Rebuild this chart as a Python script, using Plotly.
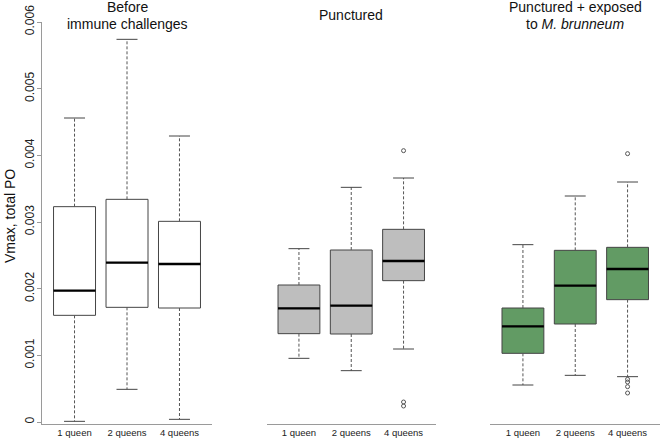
import plotly.graph_objects as go

GROUPS = ["1 queen", "2 queens", "4 queens"]
POS = [1, 2, 3]

# before immune challenges
BEFORE_Q1 = [0.00160, 0.00172, 0.00171]
BEFORE_MED = [0.00197, 0.00239, 0.00237]
BEFORE_Q3 = [0.00323, 0.00334, 0.00301]
BEFORE_LOW = [0.00001, 0.00049, 0.00004]
BEFORE_UP = [0.00456, 0.00574, 0.00429]
BEFORE_OUT = [[], [], []]

# punctured
PUNCT_Q1 = [0.001325, 0.00132, 0.00212]
PUNCT_MED = [0.001705, 0.001745, 0.002415]
PUNCT_Q3 = [0.002055, 0.00258, 0.00289]
PUNCT_LOW = [0.000955, 0.00077, 0.001095]
PUNCT_UP = [0.00260, 0.00352, 0.00366]
PUNCT_OUT = [[], [], [0.00407, 0.00030, 0.00024]]

# punctured + exposed to M. brunneum
EXPO_Q1 = [0.00103, 0.00147, 0.001835]
EXPO_MED = [0.001435, 0.002045, 0.002295]
EXPO_Q3 = [0.00171, 0.002575, 0.00262]
EXPO_LOW = [0.000555, 0.00070, 0.00068]
EXPO_UP = [0.00266, 0.00339, 0.00360]
EXPO_OUT = [[], [], [0.004025, 0.00064, 0.00060, 0.00053, 0.000435]]

Y_TICKS = [0, 0.001, 0.002, 0.003, 0.004, 0.005, 0.006]
Y_TICKTEXT = ["0", "0.001", "0.002", "0.003", "0.004", "0.005", "0.006"]

PANELS = [
    (["Before", "immune challenges"], "white",
     BEFORE_Q1, BEFORE_MED, BEFORE_Q3, BEFORE_LOW, BEFORE_UP, BEFORE_OUT),
    (["Punctured"], "#bebebe",
     PUNCT_Q1, PUNCT_MED, PUNCT_Q3, PUNCT_LOW, PUNCT_UP, PUNCT_OUT),
    (["Punctured + exposed", "to <i>M. brunneum</i>"], "#629b64",
     EXPO_Q1, EXPO_MED, EXPO_Q3, EXPO_LOW, EXPO_UP, EXPO_OUT),
]

FONT = "Liberation Sans, Arial, sans-serif"
AXIS_GREY = "#9a9a9a"
EDGE = "#454545"
DOMAINS = [[0, 0.2751], [0.3633, 0.6375], [0.7257, 1.0]]
PLOT_TOP, PLOT_H = 22, 402  # px, used to place title lines above the panels


def paper_y(px):
    return (PLOT_TOP + PLOT_H - px) / PLOT_H


fig = go.Figure()

for i, (title, fill, q1, med, q3, low, up, out) in enumerate(PANELS):
    xa = "x" if i == 0 else f"x{i + 1}"
    ya = "y" if i == 0 else f"y{i + 1}"

    fig.add_trace(go.Box(
        x=POS, q1=q1, median=med, q3=q3, lowerfence=q1, upperfence=q3,
        width=0.8, whiskerwidth=0, fillcolor=fill,
        line={"color": EDGE, "width": 1},
        xaxis=xa, yaxis=ya, hoverinfo="skip",
    ))

    wx, wy, cx, cy, mx, my = [], [], [], [], [], []
    for p, a, m, b, lo, hi in zip(POS, q1, med, q3, low, up):
        wx += [p, p, None, p, p, None]
        wy += [b, hi, None, a, lo, None]
        cx += [p - 0.2, p + 0.2, None, p - 0.2, p + 0.2, None]
        cy += [hi, hi, None, lo, lo, None]
        mx += [p - 0.4, p + 0.4, None]
        my += [m, m, None]

    fig.add_trace(go.Scatter(
        x=wx, y=wy, mode="lines", xaxis=xa, yaxis=ya,
        line={"color": "#555555", "width": 1, "dash": "3px,2px"},
        hoverinfo="skip",
    ))
    fig.add_trace(go.Scatter(
        x=cx, y=cy, mode="lines", xaxis=xa, yaxis=ya,
        line={"color": EDGE, "width": 1}, hoverinfo="skip",
    ))
    fig.add_trace(go.Scatter(
        x=mx, y=my, mode="lines", xaxis=xa, yaxis=ya,
        line={"color": "black", "width": 2.3}, hoverinfo="skip",
    ))

    ox, oy = [], []
    for p, vals in zip(POS, out):
        ox += [p] * len(vals)
        oy += vals
    if ox:
        fig.add_trace(go.Scatter(
            x=ox, y=oy, mode="markers", xaxis=xa, yaxis=ya,
            marker={"symbol": "circle-open", "size": 4, "color": "#555555",
                    "line": {"width": 1}},
            hoverinfo="skip",
        ))

    key = "" if i == 0 else str(i + 1)
    fig.layout["xaxis" + key] = dict(
        domain=DOMAINS[i], range=[0.38, 3.62], anchor=ya,
        tickvals=POS, ticktext=GROUPS, ticks="",
        showline=True, linecolor=AXIS_GREY, linewidth=1,
        showgrid=False, zeroline=False,
        tickfont={"size": 9.5, "color": "#222222"},
    )
    fig.layout["yaxis" + key] = dict(
        domain=[0, 1], range=[-0.00003, 0.006], anchor=xa,
        showgrid=False, zeroline=False,
        visible=(i == 0),
        showline=(i == 0), linecolor=AXIS_GREY, linewidth=1,
        ticks="outside", ticklen=4, tickcolor=AXIS_GREY,
        tickvals=Y_TICKS, ticktext=Y_TICKTEXT, tickangle=-90,
        ticklabelstandoff=-2,
        tickfont={"size": 12, "color": "#222222"},
    )

    # title lines: two-line titles at 7 and 24 px, single line at 15 px
    line_px = [15] if len(title) == 1 else [7, 24]
    for text, py in zip(title, line_px):
        fig.add_annotation(
            text=text, x=0.5, xref=f"{xa} domain", y=paper_y(py), yref="paper",
            xanchor="center", yanchor="middle", showarrow=False,
            font={"size": 14, "color": "#111111"},
        )

fig.add_annotation(
    text="Vmax, total PO", x=-0.0518, xref="paper", y=paper_y(216), yref="paper",
    textangle=-90, xanchor="center", yanchor="middle", showarrow=False,
    font={"size": 14, "color": "#111111"},
)

fig.update_layout(
    width=660, height=440,
    margin={"l": 42, "r": 0, "t": 22, "b": 16},
    paper_bgcolor="white", plot_bgcolor="white",
    showlegend=False, font={"family": FONT},
)

fig.write_html(
    "out.html",
    config={"displayModeBar": False},
    post_script="document.body.style.margin='0px';",
)
